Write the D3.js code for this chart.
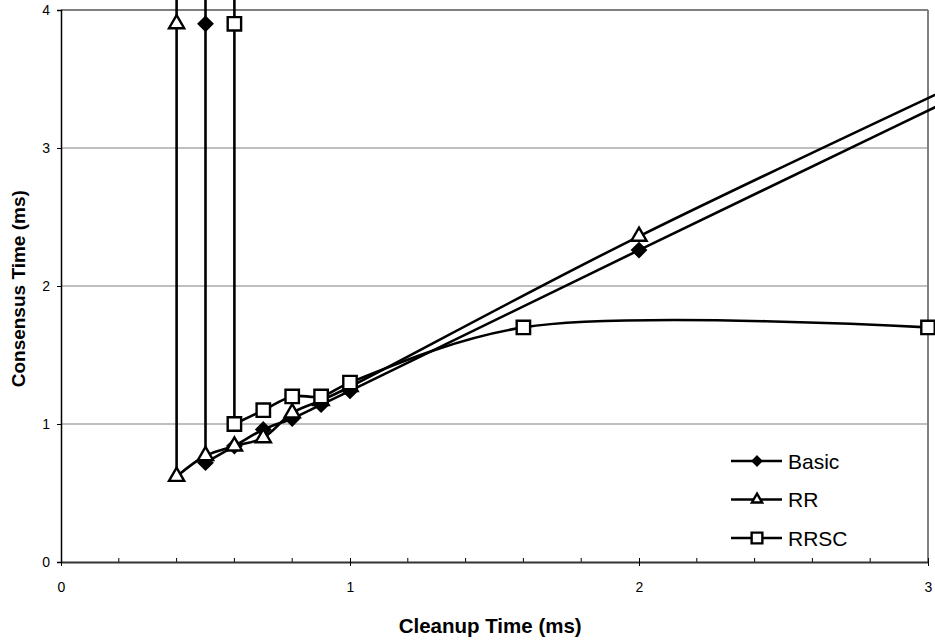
<!DOCTYPE html>
<html>
<head>
<meta charset="utf-8">
<script src="https://cdn.jsdelivr.net/npm/d3@7"></script>
<style>
  body { margin: 0; background: #fff; }
  svg { display: block; font-family: "Liberation Sans", Arial, sans-serif; }
</style>
</head>
<body>
<svg id="chart" width="935" height="642"></svg>
<script>
// cleanup time (ms) / consensus time (ms); first point of each series lies above the axis
const basicX = [0.5, 0.5, 0.5, 0.6, 0.7, 0.8, 0.9, 1.0, 2.0, 4.0];
const basicY = [5.0, 3.9, 0.72, 0.84, 0.96, 1.04, 1.14, 1.24, 2.26, 4.28];
const rrX = [0.4, 0.4, 0.4, 0.5, 0.6, 0.7, 0.8, 0.9, 1.0, 2.0, 4.0];
const rrY = [5.0, 3.9, 0.62, 0.77, 0.84, 0.90, 1.08, 1.17, 1.27, 2.36, 4.34];
const rrscX = [0.6, 0.6, 0.6, 0.7, 0.8, 0.9, 1.0, 1.6, 3.0];
const rrscY = [5.0, 3.9, 1.0, 1.1, 1.2, 1.2, 1.3, 1.7, 1.7];

const seriesNames = ['Basic', 'RR', 'RRSC'];
const xTicks = [0, 1, 2, 3];
const yTicks = [0, 1, 2, 3, 4];

const margin = { top: 10, left: 61 };
const width = 867, height = 552;

const svg = d3.select('#chart');
const g = svg.append('g').attr('transform', `translate(${margin.left},${margin.top})`);

const x = d3.scaleLinear().domain([0, 3]).range([0, width]);
const y = d3.scaleLinear().domain([0, 4]).range([height, 0]);

// gridlines
g.append('g')
    .selectAll('line')
    .data(yTicks.slice(1))
    .enter()
    .append('line')
    .attr('x1', 0)
    .attr('x2', width)
    .attr('y1', d => y(d))
    .attr('y2', d => y(d))
    .attr('stroke', '#808080')
    .attr('stroke-width', d => d === 4 ? 2 : 1.2);

// right border
g.append('line')
    .attr('x1', width).attr('x2', width)
    .attr('y1', 0).attr('y2', height)
    .attr('stroke', '#808080')
    .attr('stroke-width', 2);

// y axis
const yAxis = g.append('g')
    .call(d3.axisLeft(y).tickValues(yTicks).tickSize(4).tickPadding(7).tickFormat(d3.format('d')));
yAxis.select('.domain').attr('stroke', '#000').attr('stroke-width', 1.5);
yAxis.selectAll('.tick line').attr('stroke', '#000');
yAxis.selectAll('text').style('font-size', '14px').attr('fill', '#000');

// x axis: minor ticks inside, major ticks crossing
const minor = d3.range(1, 15).map(i => i / 5).filter(v => !xTicks.includes(v));
g.append('g')
    .selectAll('line')
    .data(minor)
    .enter()
    .append('line')
    .attr('x1', d => x(d)).attr('x2', d => x(d))
    .attr('y1', height).attr('y2', height - 4)
    .attr('stroke', '#000');

const xAxis = g.append('g')
    .attr('transform', `translate(0,${height})`)
    .call(d3.axisBottom(x).tickValues(xTicks).tickSizeInner(4).tickSizeOuter(0).tickPadding(16).tickFormat(d3.format('d')));
xAxis.select('.domain').attr('stroke', '#333').attr('stroke-width', 2);
xAxis.selectAll('.tick line').attr('stroke', '#000').attr('y1', -4);
xAxis.selectAll('text').style('font-size', '14px').attr('fill', '#000');

// axis titles
g.append('text')
    .attr('x', x(1.485))
    .attr('y', height + 71)
    .attr('text-anchor', 'middle')
    .attr('font-weight', 'bold')
    .attr('font-size', 20.5)
    .text('Cleanup Time (ms)');

svg.append('text')
    .attr('transform', `translate(25,${margin.top + y(1.98)}) rotate(-90)`)
    .attr('text-anchor', 'middle')
    .attr('font-weight', 'bold')
    .attr('font-size', 19)
    .text('Consensus Time (ms)');

// series
const series = [
    { name: seriesNames[0], xs: basicX, ys: basicY, shape: d3.symbolDiamond2, fill: '#000', size: 115, legend: 45 },
    { name: seriesNames[1], xs: rrX, ys: rrY, shape: d3.symbolTriangle, fill: '#fff', size: 100, legend: 45 },
    { name: seriesNames[2], xs: rrscX, ys: rrscY, shape: d3.symbolSquare, fill: '#fff', size: 180, legend: 115 }
];

const straight = d3.line()
    .x(d => x(d[0]))
    .y(d => y(d[1]));

const smooth = d3.line()
    .x(d => x(d[0]))
    .y(d => y(d[1]))
    .curve(d3.curveCatmullRom.alpha(0.5));

series.forEach(s => {
    const pts = s.xs.map((v, i) => [v, s.ys[i]]);
    // vertical drop is drawn straight, the rest smoothed
    [straight(pts.slice(0, 3)), smooth(pts.slice(2))].forEach(d => {
        g.append('path')
            .attr('d', d)
            .attr('fill', 'none')
            .attr('stroke', '#000')
            .attr('stroke-width', 2.6);
    });

    g.selectAll('.m-' + s.name)
        .data(pts.filter(p => p[0] <= 3 && p[1] <= 4))
        .enter()
        .append('path')
        .attr('class', 'm-' + s.name)
        .attr('transform', d => `translate(${x(d[0])},${y(d[1])})`)
        .attr('d', d3.symbol().type(s.shape).size(s.size))
        .attr('fill', s.fill)
        .attr('stroke', '#000')
        .attr('stroke-width', 2.4);
});

// legend
const legend = svg.append('g').attr('transform', 'translate(731,461)');
series.forEach((s, i) => {
    const row = legend.append('g').attr('transform', `translate(0,${i * 38.5})`);
    row.append('line')
        .attr('x1', 0).attr('x2', 51)
        .attr('stroke', '#000')
        .attr('stroke-width', 2.6);
    row.append('path')
        .attr('transform', 'translate(26,0)')
        .attr('d', d3.symbol().type(s.shape).size(s.legend))
        .attr('fill', s.fill)
        .attr('stroke', '#000')
        .attr('stroke-width', 2.4);
    row.append('text')
        .attr('x', 57)
        .attr('dy', '0.36em')
        .attr('font-size', 21)
        .text(s.name);
});
</script>
</body>
</html>
